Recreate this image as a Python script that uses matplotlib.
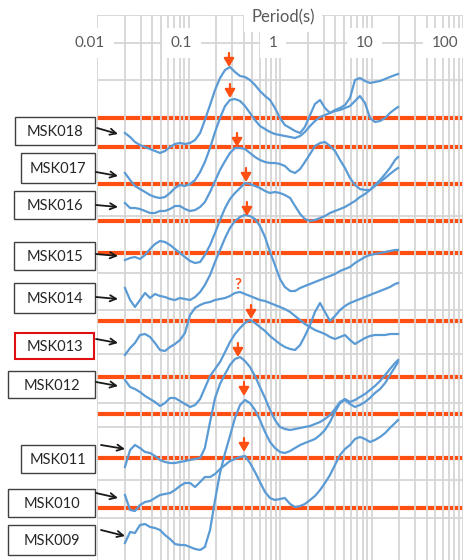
import matplotlib
matplotlib.use("Agg")
from matplotlib import pyplot as plt
from matplotlib.patches import Rectangle
from matplotlib.transforms import ScaledTranslation, blended_transform_factory

plt.rcParams["font.family"] = ["Lato", "DejaVu Sans"]

# sampled periods (s), shared by every trace
period = [0.0202, 0.0230, 0.0260, 0.0295, 0.0335, 0.0380, 0.0430, 0.0488, 0.0553, 0.0628,
          0.0712, 0.0807, 0.0915, 0.104, 0.118, 0.134, 0.151, 0.172, 0.195, 0.221,
          0.251, 0.284, 0.322, 0.366, 0.414, 0.470, 0.533, 0.604, 0.686, 0.778,
          0.881, 1.00, 1.13, 1.29, 1.46, 1.66, 1.87, 2.13, 2.41, 2.74,
          3.10, 3.52, 3.99, 4.53, 5.13, 5.82, 6.60, 7.48, 8.49, 9.63,
          10.9, 12.4, 14.1, 15.9, 18.1, 19.5]

# stacked traces, vertical offset units (larger = lower on the sheet)
msk018 = [133, 137, 142, 145, 147, 149, 151, 153, 151, 147,
          144, 143, 144, 143, 140, 133, 120, 105, 90, 78,
          70, 67, 72, 76, 77, 80, 85, 91, 96, 100,
          108, 118, 125, 128, 131, 133, 127, 115, 104, 100,
          108, 113, 110, 108, 105, 98, 80, 78, 81, 83,
          82, 81, 79, 77, 75, 74]
msk017 = [173, 180, 186, 189, 192, 195, 197, 198, 197, 193,
          188, 185, 186, 184, 180, 172, 162, 148, 132, 118,
          106, 100, 99, 101, 106, 113, 120, 126, 129, 132,
          134, 135, 136, 137, 138, 136, 132, 126, 121, 117,
          115, 113, 111, 110, 108, 106, 101, 96, 103, 118,
          122, 121, 118, 113, 109, 107]
msk016 = [203, 208, 208, 209, 211, 213, 213, 211, 211, 209,
          206, 206, 209, 211, 210, 207, 202, 192, 181, 170,
          161, 153, 148, 148, 149, 153, 157, 160, 162, 163,
          163, 164, 166, 171, 173, 169, 162, 154, 146, 143,
          142, 146, 151, 160, 168, 178, 185, 189, 190, 190,
          185, 180, 174, 168, 160, 157]
msk015 = [260, 258, 257, 259, 255, 249, 244, 241, 242, 245,
          249, 253, 257, 261, 263, 262, 255, 245, 233, 220,
          208, 199, 193, 188, 183, 184, 186, 188, 191, 193,
          192, 193, 195, 198, 206, 214, 219, 221, 220, 218,
          216, 213, 211, 209, 207, 204, 201, 197, 194, 190,
          186, 182, 178, 174, 170, 168]
msk014 = [288, 300, 307, 300, 293, 298, 294, 296, 297, 299,
          300, 298, 299, 300, 297, 292, 285, 275, 262, 250,
          238, 228, 221, 217, 215, 216, 219, 226, 237, 252,
          265, 279, 287, 291, 291, 288, 286, 284, 282, 280,
          278, 276, 274, 271, 269, 267, 263, 260, 257, 255,
          254, 253, 252, 251, 250, 250]
msk013 = [355, 348, 343, 335, 334, 337, 343, 350, 351, 347,
          344, 340, 333, 315, 308, 305, 303, 302, 300, 299,
          298, 296, 293, 292, 294, 296, 298, 300, 301, 303,
          305, 307, 309, 312, 316, 320, 324, 327, 330, 332,
          334, 337, 339, 337, 335, 340, 344, 341, 338, 336,
          335, 335, 335, 334, 334, 334]
msk012 = [380, 387, 389, 392, 396, 399, 402, 406, 403, 398,
          398, 401, 404, 407, 405, 399, 388, 376, 369, 362,
          352, 342, 334, 328, 323, 320, 323, 327, 331, 336,
          340, 344, 347, 349, 350, 345, 336, 325, 312, 303,
          312, 321, 316, 310, 306, 303, 301, 299, 297, 295,
          293, 291, 289, 287, 284, 283]
msk011 = [467, 450, 445, 448, 452, 453, 456, 460, 462, 463,
          463, 462, 461, 460, 459, 458, 448, 422, 398, 384,
          374, 365, 359, 357, 361, 367, 376, 387, 398, 410,
          420, 427, 429, 430, 429, 428, 427, 426, 424, 422,
          419, 415, 409, 402, 399, 402, 400, 397, 394, 390,
          386, 381, 375, 369, 363, 360]
msk010 = [495, 510, 511, 505, 502, 501, 498, 495, 494, 493,
          490, 486, 483, 483, 487, 482, 477, 477, 474, 469,
          465, 461, 459, 457, 456, 463, 472, 482, 492, 498,
          500, 499, 498, 504, 507, 506, 504, 500, 496, 490,
          483, 475, 465, 455, 449, 445, 439, 437, 439, 442,
          440, 437, 433, 428, 423, 420]
msk009 = [543, 532, 533, 525, 524, 527, 528, 530, 535, 539,
          544, 545, 545, 547, 549, 550, 547, 530, 500, 473,
          453, 436, 418, 405, 400, 403, 410, 420, 432, 442,
          448, 452, 453, 451, 448, 445, 443, 441, 439, 435,
          430, 422, 412, 403, 400, 404, 407, 405, 402, 398,
          393, 389, 383, 375, 367, 362]

stations = ["MSK018", "MSK017", "MSK016", "MSK015", "MSK014",
            "MSK013", "MSK012", "MSK011", "MSK010", "MSK009"]
traces = [msk018, msk017, msk016, msk015, msk014,
          msk013, msk012, msk011, msk010, msk009]

# orange reference levels
ref_levels = [118, 147, 184, 221, 253, 321, 377, 414, 458, 508]

# picked peaks (period, offset); False = uncertain pick ("?")
peak_period = [0.277, 0.284, 0.339, 0.425, 0.435, 0.347, 0.482, 0.347, 0.404, 0.404]
peak_offset = [67, 98, 147, 182, 216, 292, 319, 357, 396, 452]
peak_sure = [True, True, True, True, True, False, True, True, True, True]

grid_rows = [15, 43, 80, 216, 273, 310, 354, 403, 427, 480, 518]
tick_values = [0.01, 0.1, 1, 10, 100]
tick_labels = ["0.01", "0.1", "1", "10", "100"]
tick_shift = [-7, -7, -7, -7, -18]  # px, labels sit a bit left of their lines

# label boxes (x0, y0, x1, y1) and pointer arrows (tail, head), sheet pixels
label_boxes = [(15, 117, 95, 145), (21, 153, 95, 183), (14, 191, 95, 219),
               (14, 242, 95, 270), (14, 283, 95, 313), (15, 333, 94, 359),
               (8, 371, 95, 398), (21, 445, 95, 473), (8, 489, 95, 517),
               (8, 525, 95, 555)]
pointers = [((97, 128), (118, 134)), ((96, 172), (118, 176)), ((96, 205), (118, 207)),
            ((96, 254), (118, 256)), ((96, 297), (118, 299)), ((96, 339), (118, 343)),
            ((96, 382), (118, 386)), ((101, 445), (125, 449)), ((96, 493), (118, 498)),
            ((101, 530), (125, 536))]

ORANGE = "#ff4f12"
BLUE = "#5b9bd5"
GRID = "#d6d6d6"

fig = plt.figure(figsize=(4.66, 5.60), dpi=100)
ax = fig.add_axes([97 / 466, 0, 366 / 466, 545 / 560])
ax.set_xscale("log")
ax.set_xlim(0.01, 100)
ax.set_ylim(560, 15)
for s in ax.spines.values():
    s.set_visible(False)
ax.set_yticks(grid_rows)
ax.tick_params(which="both", length=0, labelbottom=False, labelleft=False)
ax.grid(True, which="both", axis="x", color=GRID, lw=1.3)
ax.grid(True, which="major", axis="y", color=GRID, lw=1.3)
ax.set_axisbelow(False)

for lv in ref_levels:
    ax.axhline(lv, color=ORANGE, lw=3.0, zorder=2, solid_capstyle="butt")

for tr in traces:
    ax.plot(period, tr, color=BLUE, lw=1.6, zorder=3)

for p, y, sure in zip(peak_period, peak_offset, peak_sure):
    if sure:
        ax.annotate("", xy=(p, y), xytext=(0, 14), textcoords="offset pixels",
                    arrowprops=dict(arrowstyle="-|>,head_width=0.3,head_length=0.5",
                                    color=ORANGE, lw=1.6, shrinkA=0, shrinkB=0),
                    zorder=4)
    else:
        ax.text(p, y, "?", color=ORANGE, fontsize=11, fontweight="bold",
                ha="center", va="bottom", zorder=4)

# top period axis labels
for v, t, dx in zip(tick_values, tick_labels, tick_shift):
    shift = ax.transData + ScaledTranslation(dx / 100, 0, fig.dpi_scale_trans)
    ax.text(v, 43, t, transform=shift, ha="center", va="center",
            fontsize=11, color="#595959", clip_on=False, zorder=5,
            bbox=dict(fc="white", ec="none", pad=6))
bt = blended_transform_factory(ax.transAxes, ax.transData)
ax.text(0.508, 17, "Period(s)", transform=bt, ha="center", va="center",
        fontsize=12, color="#595959", zorder=5,
        bbox=dict(fc="white", ec="none", pad=5))

# station labels
ov = fig.add_axes([0, 0, 1, 1], zorder=6)
ov.set_xlim(0, 466)
ov.set_ylim(560, 0)
ov.axis("off")
for name, (x0, y0, x1, y1), (tail, head) in zip(stations, label_boxes, pointers):
    ec = "#e01010" if name == "MSK013" else "#404040"
    ov.add_patch(Rectangle((x0, y0), x1 - x0, y1 - y0, fc="white", ec=ec,
                           lw=1.5 if name == "MSK013" else 1.0))
    ov.text((x0 + x1) / 2, (y0 + y1) / 2 + 1, name, ha="center", va="center",
            fontsize=10.5, color="#262626")
    ov.annotate("", xy=head, xytext=tail,
                arrowprops=dict(arrowstyle="->", color="#1a1a1a", lw=1.3,
                                shrinkA=0, shrinkB=0, mutation_scale=11))

fig.savefig("out.png", dpi=100)
